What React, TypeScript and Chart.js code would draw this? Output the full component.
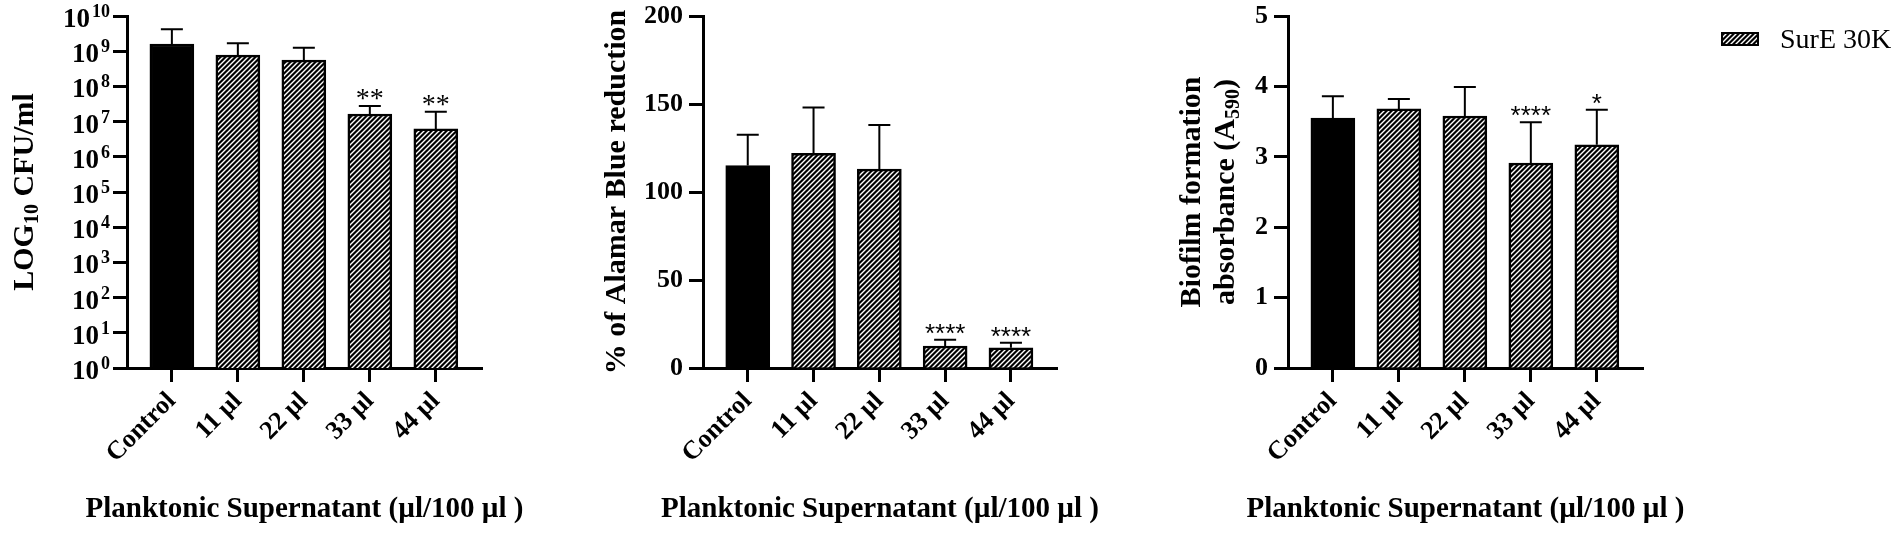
import React, { useEffect, useRef } from 'react';
import { Chart, registerables } from 'chart.js';

Chart.register(...registerables);

// ---------------- data ----------------
const categories = ['Control', '11 µl', '22 µl', '33 µl', '44 µl'];

const cfuMeans = [1.6e9, 7.7e8, 5.6e8, 1.64e7, 6.2e6];
const cfuErrors = [2.6e9, 9.2e8, 7.0e8, 1.14e7, 1.28e7];
const cfuStars = ['', '', '', '**', '**'];
const cfuTicks = [1, 1e1, 1e2, 1e3, 1e4, 1e5, 1e6, 1e7, 1e8, 1e9, 1e10];
const cfuTickExponents = ['0', '1', '2', '3', '4', '5', '6', '7', '8', '9', '10'];

const alamarMeans = [115, 122, 113, 12.5, 11.5];
const alamarErrors = [17.5, 26, 25, 3.5, 2.8];
const alamarStars = ['', '', '', '****', '****'];
const alamarTicks = [0, 50, 100, 150, 200];

const biofilmMeans = [3.55, 3.68, 3.58, 2.91, 3.17];
const biofilmErrors = [0.31, 0.14, 0.41, 0.58, 0.5];
const biofilmStars = ['', '', '', '****', '*'];
const biofilmTicks = [0, 1, 2, 3, 4, 5];

const xTitle = 'Planktonic Supernatant (µl/100 µl )';
const legendLabel = 'SurE 30K';

// ---------------- layout ----------------
const W = 1902;
const H = 534;
const TOP = 16;
const BOTTOM = 368;
const Y_W = 100;
const X_H = 120;
const X_MIN = -0.68;
const X_MAX = 4.7;
const SERIF = '"Liberation Serif", "Times New Roman", serif';
const SANS = '"Liberation Sans", Arial, sans-serif';

type Seg = { t: string; size: number; dy: number };

type Panel = {
  left: number;
  right: number;
  means: number[];
  errors: number[];
  stars: string[];
  log: boolean;
  ticks: number[];
  exps?: string[];
  yMin: number;
  yMax: number;
  starFont: string;
  titleLines: Seg[][];
  titleBaselines: number[];
  legend: boolean;
};

const panels: Panel[] = [
  {
    left: 127, right: 482,
    means: cfuMeans, errors: cfuErrors, stars: cfuStars,
    log: true, ticks: cfuTicks, exps: cfuTickExponents, yMin: 1, yMax: 1e10,
    starFont: `normal 28px ${SERIF}`,
    titleLines: [[{ t: 'LOG', size: 30, dy: 0 }, { t: '10', size: 20, dy: 5 }, { t: ' CFU/ml', size: 30, dy: 0 }]],
    titleBaselines: [33],
    legend: false,
  },
  {
    left: 703, right: 1057,
    means: alamarMeans, errors: alamarErrors, stars: alamarStars,
    log: false, ticks: alamarTicks, yMin: 0, yMax: 200,
    starFont: `normal 26px ${SANS}`,
    titleLines: [[{ t: '% of Alamar Blue reduction', size: 30, dy: 0 }]],
    titleBaselines: [625],
    legend: false,
  },
  {
    left: 1288, right: 1643,
    means: biofilmMeans, errors: biofilmErrors, stars: biofilmStars,
    log: false, ticks: biofilmTicks, yMin: 0, yMax: 5,
    starFont: `normal 26px ${SANS}`,
    titleLines: [
      [{ t: 'Biofilm formation', size: 30, dy: 0 }],
      [{ t: 'absorbance (A', size: 30, dy: 0 }, { t: '590', size: 20, dy: 5 }, { t: ')', size: 30, dy: 0 }],
    ],
    titleBaselines: [1200, 1234],
    legend: true,
  },
];

function makeHatch(): CanvasPattern {
  const s = 5;
  const c = document.createElement('canvas');
  c.width = s;
  c.height = s;
  const g = c.getContext('2d')!;
  g.fillStyle = '#000';
  g.fillRect(0, 0, s, s);
  g.strokeStyle = '#fff';
  g.lineWidth = 1.4;
  g.beginPath();
  g.moveTo(-1, s + 1); g.lineTo(s + 1, -1);
  g.moveTo(-1, 1); g.lineTo(1, -1);
  g.moveTo(s - 1, s + 1); g.lineTo(s + 1, s - 1);
  g.stroke();
  return g.createPattern(c, 'repeat')!;
}

function drawRich(ctx: CanvasRenderingContext2D, segs: Seg[], x: number, y: number, rotate: boolean, align: 'center' | 'right' | 'left', weight: string) {
  ctx.save();
  ctx.translate(x, y);
  if (rotate) ctx.rotate(-Math.PI / 2);
  ctx.textAlign = 'left';
  ctx.textBaseline = 'alphabetic';
  ctx.fillStyle = '#000';
  const widths = segs.map((s) => {
    ctx.font = `${weight} ${s.size}px ${SERIF}`;
    return ctx.measureText(s.t).width;
  });
  const total = widths.reduce((a, b) => a + b, 0);
  let cx = align === 'center' ? -total / 2 : align === 'right' ? -total : 0;
  segs.forEach((s, i) => {
    ctx.font = `${weight} ${s.size}px ${SERIF}`;
    ctx.fillText(s.t, cx, s.dy);
    cx += widths[i];
  });
  ctx.restore();
}

function makeChart(canvas: HTMLCanvasElement, p: Panel, pattern: CanvasPattern) {
  const overlay = {
    id: 'overlay' + p.left,
    afterDatasetsDraw(chart: any) {
      const ctx: CanvasRenderingContext2D = chart.ctx;
      const yS = chart.scales.y;
      const meta = chart.getDatasetMeta(0);
      ctx.save();
      ctx.strokeStyle = '#000';
      ctx.lineWidth = 2;
      meta.data.forEach((el: any, i: number) => {
        const top = yS.getPixelForValue(p.means[i] + p.errors[i]);
        ctx.beginPath();
        ctx.moveTo(el.x, el.y);
        ctx.lineTo(el.x, top);
        ctx.moveTo(el.x - 11, top);
        ctx.lineTo(el.x + 11, top);
        ctx.stroke();
        const st = p.stars[i];
        if (st) {
          ctx.font = p.starFont;
          ctx.textAlign = 'center';
          ctx.textBaseline = 'alphabetic';
          ctx.fillStyle = '#000';
          const m = ctx.measureText(st);
          const bottom = top - 6;
          ctx.fillText(st, el.x, bottom - m.actualBoundingBoxDescent);
        }
      });
      ctx.restore();
    },
    afterDraw(chart: any) {
      const ctx: CanvasRenderingContext2D = chart.ctx;
      const yS = chart.scales.y;
      const cx = (chart.chartArea.left + chart.chartArea.right) / 2;
      const cy = (chart.chartArea.top + chart.chartArea.bottom) / 2;
      // log tick labels with superscript exponents
      if (p.log && p.exps) {
        p.ticks.forEach((v, i) => {
          const y = yS.getPixelForValue(v);
          const right = chart.chartArea.left - 17;
          ctx.save();
          ctx.fillStyle = '#000';
          ctx.textBaseline = 'alphabetic';
          ctx.textAlign = 'right';
          ctx.font = `bold 18px ${SERIF}`;
          const ew = ctx.measureText(p.exps![i]).width;
          ctx.fillText(p.exps![i], right, y + 1);
          ctx.font = `bold 27px ${SERIF}`;
          ctx.fillText('10', right - ew - 2, y + 11);
          ctx.restore();
        });
      }
      // x title
      drawRich(ctx, [{ t: xTitle, size: 29, dy: 0 }], cx, 517, false, 'center', 'bold');
      // y title
      p.titleLines.forEach((segs, i) => {
        drawRich(ctx, segs, p.titleBaselines[i], cy, true, 'center', 'bold');
      });
      // legend
      if (p.legend) {
        ctx.save();
        ctx.fillStyle = pattern;
        ctx.fillRect(1722, 33, 36, 12);
        ctx.strokeStyle = '#000';
        ctx.lineWidth = 2;
        ctx.strokeRect(1722, 33, 36, 12);
        ctx.restore();
        drawRich(ctx, [{ t: legendLabel, size: 28, dy: 0 }], 1780, 48, false, 'left', 'normal');
      }
    },
  };

  return new Chart(canvas, {
    type: 'bar',
    data: {
      datasets: [
        {
          label: legendLabel,
          data: p.means.map((v, i) => ({ x: i, y: v })),
          backgroundColor: p.means.map((_, i) => (i === 0 ? '#000' : pattern)) as any,
          borderColor: '#000',
          borderWidth: 2.5,
          borderSkipped: 'bottom',
          barThickness: 44,
        } as any,
      ],
    },
    options: {
      animation: false,
      responsive: false,
      events: [],
      layout: {
        padding: { left: p.left - Y_W, right: W - p.right, top: TOP, bottom: H - BOTTOM - X_H },
      },
      plugins: { legend: { display: false }, tooltip: { enabled: false } },
      scales: {
        x: {
          type: 'linear',
          min: X_MIN,
          max: X_MAX,
          offset: false,
          bounds: 'data',
          afterBuildTicks: (s: any) => {
            s.ticks = categories.map((_, i) => ({ value: i }));
          },
          afterFit: (s: any) => {
            s.height = X_H;
            s.paddingLeft = 0;
            s.paddingRight = 0;
          },
          grid: {
            display: true, offset: false, drawOnChartArea: false, drawTicks: true,
            tickLength: 14, tickWidth: 3, tickColor: '#000', color: '#000',
          },
          border: { display: true, width: 3, color: '#000' },
          ticks: {
            autoSkip: false, maxRotation: 45, minRotation: 45, padding: 4, color: '#000',
            font: { family: SERIF, size: 26, weight: 'bold' },
            callback: (v: any) => categories[v as number] ?? '',
          },
        } as any,
        y: {
          type: p.log ? 'logarithmic' : 'linear',
          min: p.yMin,
          max: p.yMax,
          afterBuildTicks: (s: any) => {
            s.ticks = p.ticks.map((v) => ({ value: v }));
          },
          afterFit: (s: any) => {
            s.width = Y_W;
            s.paddingTop = 0;
            s.paddingBottom = 0;
          },
          grid: {
            display: true, drawOnChartArea: false, drawTicks: true,
            tickLength: 14, tickWidth: 3, tickColor: '#000', color: '#000',
          },
          border: { display: true, width: 3, color: '#000' },
          ticks: {
            display: !p.log, autoSkip: false, padding: 6, color: '#000',
            font: { family: SERIF, size: 26, weight: 'bold' },
            callback: (v: any) => String(v),
          },
        } as any,
      },
    } as any,
    plugins: [overlay],
  });
}

export default function App() {
  const r1 = useRef<HTMLCanvasElement>(null);
  const r2 = useRef<HTMLCanvasElement>(null);
  const r3 = useRef<HTMLCanvasElement>(null);

  useEffect(() => {
    const pattern = makeHatch();
    const charts = [r1, r2, r3].map((r, i) => makeChart(r.current!, panels[i], pattern));
    return () => charts.forEach((c) => c.destroy());
  }, []);

  return (
    <div style={{ position: 'absolute', left: 0, top: 0, width: W, height: H, background: '#fff' }}>
      {[r1, r2, r3].map((r, i) => (
        <canvas
          key={i}
          ref={r}
          width={W}
          height={H}
          style={{ position: 'absolute', left: 0, top: 0, width: W, height: H }}
        />
      ))}
    </div>
  );
}
